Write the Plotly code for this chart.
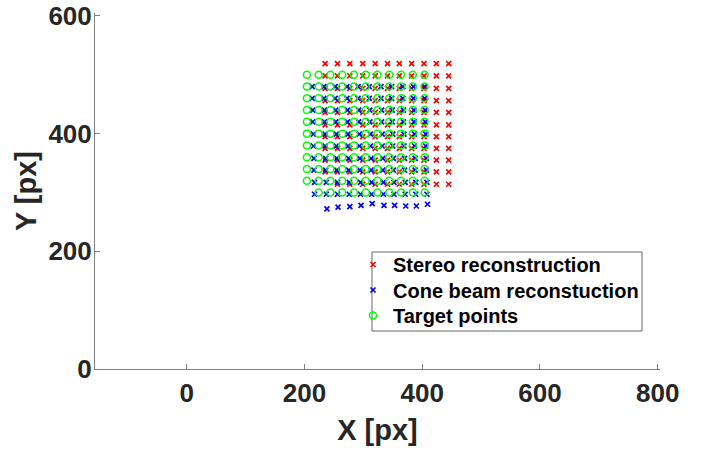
import plotly.graph_objects as go

# ---- data ----
# Target points: regular grid (bottom-left corner missing)
target_cols = [204, 224, 244, 264, 284, 304, 324, 344, 364, 384, 404]
target_rows = [500, 480, 460, 440, 420, 400, 380, 360, 340, 320, 300]

# Stereo reconstruction (red)
stereo_cols = [235, 256, 277, 299, 320, 341, 361, 382, 403, 424, 445]
stereo_rows = [519, 498, 477, 456, 436, 415, 395, 375, 355, 335, 314]

# Cone beam reconstruction (blue)
cone_cols = [218, 238, 257, 277, 296, 315, 335, 353, 372, 390, 409]
cone_rows = [480, 460, 440, 420, 399, 379, 358, 338, 317, 297, 277]
cone_row_shift = [-5, -5, -4, -4, -3, -3, -2, -2, -1, -1, 0]
# the lowest blue row is slightly uneven
cone_bottom_y = [272, 275, 276, 278, 281, 278, 278, 277, 277, 280]

x_ticks = [0, 200, 400, 600, 800]
y_ticks = [0, 200, 400, 600]


def grid_points(cols, rows, shifts=None, bottom_y=None):
    xs, ys = [], []
    last = len(rows) - 1
    for j, yv in enumerate(rows):
        for i, xv in enumerate(cols):
            if j == last and i == 0:
                continue  # missing corner point
            s = shifts[j] if shifts else 0
            xs.append(xv + s)
            if j == last and bottom_y:
                ys.append(bottom_y[i - 1])
            else:
                ys.append(yv)
    return xs, ys


sx, sy = grid_points(stereo_cols, stereo_rows)
cx, cy = grid_points(cone_cols, cone_rows, cone_row_shift, cone_bottom_y)
tx, ty = grid_points(target_cols, target_rows)

FONT = "Liberation Sans, Arial, sans-serif"
TXT = "#262626"
AX = "#808080"

fig = go.Figure()
fig.add_trace(go.Scatter(
    x=sx, y=sy, mode="markers", name="Stereo reconstruction",
    legend="legend",
    marker=dict(symbol="x-thin", size=5, color="#ff0000",
                line=dict(color="#ff0000", width=1.7)),
))
fig.add_trace(go.Scatter(
    x=cx, y=cy, mode="markers", name="Cone beam reconstuction",
    legend="legend2",
    marker=dict(symbol="x-thin", size=5, color="#0000ff",
                line=dict(color="#0000ff", width=1.7)),
))
fig.add_trace(go.Scatter(
    x=tx, y=ty, mode="markers", name="Target points",
    legend="legend3",
    marker=dict(symbol="circle-open", size=7, color="#00ff00",
                line=dict(color="#00ff00", width=1.5)),
))

W, H = 706, 449
L, R, T, B = 95, 660, 13, 369  # plot area in page pixels


def px_to_paper(xp, yp):
    return (xp - L) / (R - L), (B - yp) / (B - T)


bx0, by1 = px_to_paper(372, 252)
bx1, by0 = px_to_paper(642, 331)


def legend_at(top_px):
    lx, ly = px_to_paper(353, top_px)
    return dict(
        x=lx, y=ly, xanchor="left", yanchor="top",
        bgcolor="rgba(0,0,0,0)", borderwidth=0,
        font=dict(family=FONT, size=20, color="#000000", weight="bold"),
        itemwidth=30,
    )


fig.update_layout(
    width=W, height=H, autosize=False,
    margin=dict(l=L, r=W - R, t=T, b=H - B, pad=0),
    paper_bgcolor="white", plot_bgcolor="white",
    font=dict(family=FONT, color=TXT),
    showlegend=True,
    legend=legend_at(245),
    legend2=legend_at(270.5),
    legend3=legend_at(296),
    shapes=[dict(type="rect", xref="paper", yref="paper",
                 x0=bx0, x1=bx1, y0=by0, y1=by1,
                 line=dict(color="#666666", width=1),
                 fillcolor="white", layer="below")],
    xaxis=dict(
        range=[-156, 804], tickvals=x_ticks, ticks="inside", ticklen=5,
        tickcolor=AX, showline=True, linecolor=AX, linewidth=1,
        showgrid=False, zeroline=False, mirror=False, automargin=False,
        tickfont=dict(family=FONT, size=26, color=TXT, weight="bold"),
        ticklabelstandoff=1, ticklabeloverflow="allow",
        title=dict(text="X [px]", standoff=12,
                   font=dict(family=FONT, size=29, color=TXT, weight="bold")),
    ),
    yaxis=dict(
        range=[0, 605], tickvals=y_ticks, ticks="inside", ticklen=5,
        tickcolor=AX, showline=True, linecolor=AX, linewidth=1,
        showgrid=False, zeroline=False, mirror=False, automargin=False,
        tickfont=dict(family=FONT, size=26, color=TXT, weight="bold"),
        ticklabelstandoff=-3, ticklabeloverflow="allow",
        title=dict(text="Y [px]", standoff=3,
                   font=dict(family=FONT, size=29, color=TXT, weight="bold")),
    ),
)

# remove the browser's default 8px body margin so the figure sits at (0, 0)
fig.write_html("out.html", config={"displayModeBar": False},
               post_script="document.body.style.margin='0';")
